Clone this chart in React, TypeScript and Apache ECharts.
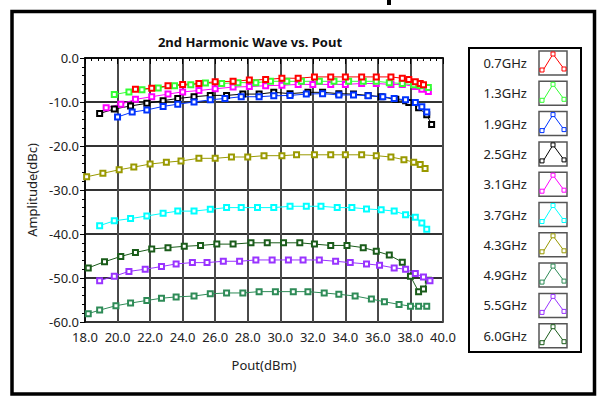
import React, { useEffect, useRef } from "react";
import * as echarts from "echarts";

const freqNames = ["0.7GHz", "1.3GHz", "1.9GHz", "2.5GHz", "3.1GHz", "3.7GHz", "4.3GHz", "4.9GHz", "5.5GHz", "6.0GHz"];
const lineColors = ["#ff0000", "#33ff33", "#0033ff", "#000000", "#ff00ff", "#00ffff", "#999900", "#2e8b57", "#9933ff", "#1a5c1a"];

const xTicks = { min: 18, max: 40, step: 2 };
const yTicks = { min: -60, max: 0, step: 10 };

// [Pout (dBm), Amplitude (dBc)]
const f07: [number, number][] = [[21.1,-7.1],[22.1,-6.9],[23.1,-6.3],[24.0,-6.0],[25.0,-5.8],[26.0,-5.4],[27.1,-5.3],[28.1,-5.0],[29.1,-4.9],[30.1,-4.6],[31.1,-4.6],[32.1,-4.3],[33.1,-4.3],[34.0,-4.3],[35.0,-4.3],[35.9,-4.3],[36.8,-4.3],[37.5,-4.6],[37.9,-4.9],[38.3,-5.4],[38.6,-5.8],[38.8,-6.1]];
const f13: [number, number][] = [[19.8,-8.3],[20.7,-7.7],[21.5,-7.2],[22.5,-6.8],[23.5,-6.3],[24.5,-6.1],[25.4,-5.7],[26.4,-5.8],[27.4,-5.6],[28.5,-5.6],[29.4,-5.3],[30.4,-5.3],[31.3,-5.3],[32.4,-5.3],[33.3,-5.3],[34.2,-5.3],[35.1,-5.3],[35.9,-5.3],[36.7,-5.6],[37.5,-5.8],[38.2,-6.1],[38.6,-6.3],[39.1,-6.7]];
const f19: [number, number][] = [[20.0,-13.4],[20.9,-12.3],[21.8,-11.8],[22.8,-11.0],[23.7,-10.5],[24.7,-10.0],[25.7,-9.5],[26.6,-9.2],[27.6,-8.8],[28.7,-8.8],[29.6,-8.6],[30.6,-8.5],[31.6,-8.2],[32.6,-8.1],[33.6,-8.4],[34.5,-8.4],[35.4,-8.6],[36.3,-8.8],[37.0,-9.2],[37.7,-9.5],[38.3,-10.1],[38.7,-11.1],[39.0,-12.3]];
const f25: [number, number][] = [[18.9,-12.6],[19.8,-11.6],[20.8,-10.9],[21.8,-10.3],[22.8,-9.7],[23.7,-9.2],[24.7,-8.8],[25.7,-8.5],[26.7,-8.5],[27.7,-8.2],[28.7,-8.2],[29.6,-7.8],[30.6,-8.1],[31.7,-7.8],[32.6,-7.8],[33.6,-8.1],[34.5,-8.2],[35.4,-8.5],[36.2,-8.8],[37.1,-9.4],[37.7,-9.7],[37.9,-10.1],[38.5,-11.3],[39.0,-12.9],[39.3,-15.1]];
const f31: [number, number][] = [[19.3,-11.3],[20.2,-10.5],[21.1,-9.4],[22.1,-8.8],[23.1,-8.2],[24.0,-7.7],[25.0,-7.4],[26.0,-7.0],[27.1,-6.6],[28.1,-6.5],[29.1,-6.3],[30.1,-6.2],[31.1,-6.0],[32.0,-6.0],[33.1,-6.0],[34.0,-6.0],[35.0,-5.8],[35.9,-5.8],[36.8,-6.0],[37.5,-6.0],[38.3,-6.5],[38.7,-7.1],[39.1,-7.6]];
const f37: [number, number][] = [[18.9,-38.1],[19.8,-37.0],[20.8,-36.5],[21.8,-35.9],[22.8,-35.3],[23.7,-34.8],[24.7,-34.8],[25.7,-34.4],[26.7,-34.0],[27.6,-34.0],[28.6,-34.0],[29.6,-34.0],[30.6,-33.7],[31.6,-33.7],[32.5,-33.7],[33.5,-34.0],[34.4,-34.0],[35.3,-34.3],[36.2,-34.5],[37.0,-34.8],[37.7,-35.6],[38.3,-36.2],[38.7,-37.5],[39.0,-38.9]];
const f43: [number, number][] = [[18.1,-27.0],[19.1,-26.2],[20.1,-25.4],[21.0,-24.8],[22.0,-24.1],[23.0,-23.7],[23.9,-23.4],[25.0,-22.8],[26.0,-22.8],[27.0,-22.5],[28.0,-22.5],[29.0,-22.2],[30.1,-22.2],[31.0,-22.0],[32.1,-22.0],[33.1,-22.0],[34.0,-22.0],[35.0,-22.0],[35.9,-22.2],[36.8,-22.5],[37.6,-23.1],[38.2,-23.7],[38.6,-24.2],[38.9,-25.1]];
const f49: [number, number][] = [[18.2,-58.1],[18.9,-57.3],[19.9,-56.3],[20.8,-55.7],[21.8,-55.1],[22.7,-54.6],[23.6,-54.3],[24.7,-54.1],[25.7,-53.6],[26.7,-53.4],[27.7,-53.4],[28.7,-53.1],[29.7,-53.1],[30.8,-53.1],[31.7,-53.1],[32.7,-53.4],[33.6,-53.7],[34.6,-54.1],[35.6,-54.8],[36.4,-55.4],[37.3,-56.0],[38.0,-56.4],[38.5,-56.4],[39.0,-56.4]];
const f55: [number, number][] = [[18.9,-50.6],[19.8,-49.6],[20.7,-48.5],[21.7,-48.0],[22.7,-47.4],[23.6,-46.8],[24.6,-46.5],[25.5,-46.5],[26.5,-46.2],[27.5,-46.2],[28.5,-45.9],[29.5,-45.9],[30.5,-45.9],[31.4,-45.9],[32.4,-45.9],[33.4,-46.2],[34.3,-46.5],[35.3,-46.8],[36.1,-47.1],[37.0,-47.7],[37.7,-48.0],[38.3,-49.0],[38.8,-49.8],[39.2,-50.6]];
const f60: [number, number][] = [[18.2,-47.7],[19.2,-46.3],[20.2,-45.1],[21.1,-44.2],[22.1,-43.4],[23.1,-43.1],[24.1,-42.8],[25.1,-42.6],[26.1,-42.3],[27.1,-42.3],[28.2,-42.0],[29.2,-42.0],[30.2,-42.0],[31.2,-42.0],[32.1,-42.3],[33.1,-42.6],[34.1,-42.6],[35.1,-43.1],[35.9,-43.9],[36.7,-44.8],[37.5,-46.4],[38.0,-49.6],[38.5,-53.1],[38.8,-52.5],[39.1,-50.5]];

const seriesData = [f07, f13, f19, f25, f31, f37, f43, f49, f55, f60];

const FONT = "'Noto Sans', sans-serif";

export default function App() {
  const ref = useRef<HTMLDivElement>(null);
  useEffect(() => {
    if (!ref.current) return;
    const chart = echarts.init(ref.current, null, { renderer: "svg" });

    const series: any[] = [];
    for (let i = seriesData.length - 1; i >= 0; i--) {
      series.push({
        name: freqNames[i],
        type: "line",
        data: seriesData[i],
        symbol: "emptyRect",
        symbolSize: 5,
        showAllSymbol: true,
        lineStyle: { color: lineColors[i], width: 1 },
        itemStyle: { color: lineColors[i], borderColor: lineColors[i], borderWidth: 1 },
      });
    }

    const graphics: any[] = [
      { type: "rect", shape: { x: 12, y: 11.5, width: 582.5, height: 382.5 }, style: { fill: "none", stroke: "#000", lineWidth: 3.5 }, z: 10 },
      { type: "rect", shape: { x: 387, y: 0, width: 4, height: 5 }, style: { fill: "#000" } },
      { type: "rect", shape: { x: 469, y: 48, width: 112, height: 304 }, style: { fill: "#fff", stroke: "#000", lineWidth: 2 } },
    ];
    freqNames.forEach((name, i) => {
      const cy = 63 + i * 30.3;
      const c = lineColors[i];
      graphics.push({
        type: "text",
        x: 527,
        y: cy,
        style: { text: name, fontSize: 13, fontFamily: FONT, fill: "#222", align: "right", verticalAlign: "middle" },
      });
      graphics.push({
        type: "rect",
        shape: { x: 539, y: cy - 12, width: 28, height: 24 },
        style: { fill: "#fff", stroke: "#555", lineWidth: 1.5 },
      });
      graphics.push({
        type: "polyline",
        shape: { points: [[542, cy + 9], [553, cy - 9], [564, cy + 6]] },
        style: { stroke: c, lineWidth: 1, fill: "none" },
      });
      [[542, cy + 7], [553, cy - 9], [564, cy + 6]].forEach(([px, py]) => {
        graphics.push({
          type: "rect",
          shape: { x: px - 2, y: py - 2, width: 4, height: 4 },
          style: { fill: "#fff", stroke: c, lineWidth: 1 },
        });
      });
    });

    chart.setOption({
      animation: false,
      backgroundColor: "#fff",
      title: {
        text: "2nd Harmonic Wave vs. Pout",
        left: 245,
        top: 30,
        textAlign: "center",
        textStyle: { fontSize: 13, fontWeight: "bold", fontFamily: FONT, color: "#111" },
      },
      grid: {
        left: 85,
        right: 158,
        top: 58,
        bottom: 75,
        show: true,
        borderColor: "#000",
        borderWidth: 1.5,
        backgroundColor: "#fff",
      },
      xAxis: {
        type: "value",
        min: xTicks.min,
        max: xTicks.max,
        interval: xTicks.step,
        name: "Pout(dBm)",
        nameLocation: "middle",
        nameGap: 36,
        nameTextStyle: { fontSize: 13, fontFamily: FONT, color: "#222" },
        axisLine: { show: true, lineStyle: { color: "#000", width: 1.5 } },
        axisTick: { show: true, length: 6, lineStyle: { color: "#000" } },
        minorTick: { show: true, splitNumber: 5, length: 3, lineStyle: { color: "#000" } },
        splitLine: { show: true, lineStyle: { color: "#4a4a4a", width: 2 } },
        axisLabel: { formatter: (v: number) => v.toFixed(1), fontSize: 13, fontFamily: FONT, color: "#222", margin: 8 },
      },
      yAxis: {
        type: "value",
        min: yTicks.min,
        max: yTicks.max,
        interval: yTicks.step,
        name: "Amplitude(dBc)",
        nameLocation: "middle",
        nameGap: 45,
        nameTextStyle: { fontSize: 13, fontFamily: FONT, color: "#222" },
        axisLine: { show: true, lineStyle: { color: "#000", width: 1.5 } },
        axisTick: { show: true, length: 5, lineStyle: { color: "#000" } },
        minorTick: { show: true, splitNumber: 5, length: 3, lineStyle: { color: "#000" } },
        splitLine: { show: true, lineStyle: { color: "#333", width: 2 } },
        axisLabel: { formatter: (v: number) => v.toFixed(1), fontSize: 13, fontFamily: FONT, color: "#222", margin: 6 },
      },
      series,
      graphic: graphics,
    });
    return () => chart.dispose();
  }, []);
  return <div ref={ref} style={{ width: 601, height: 397, position: "absolute", left: 0, top: 0 }} />;
}
